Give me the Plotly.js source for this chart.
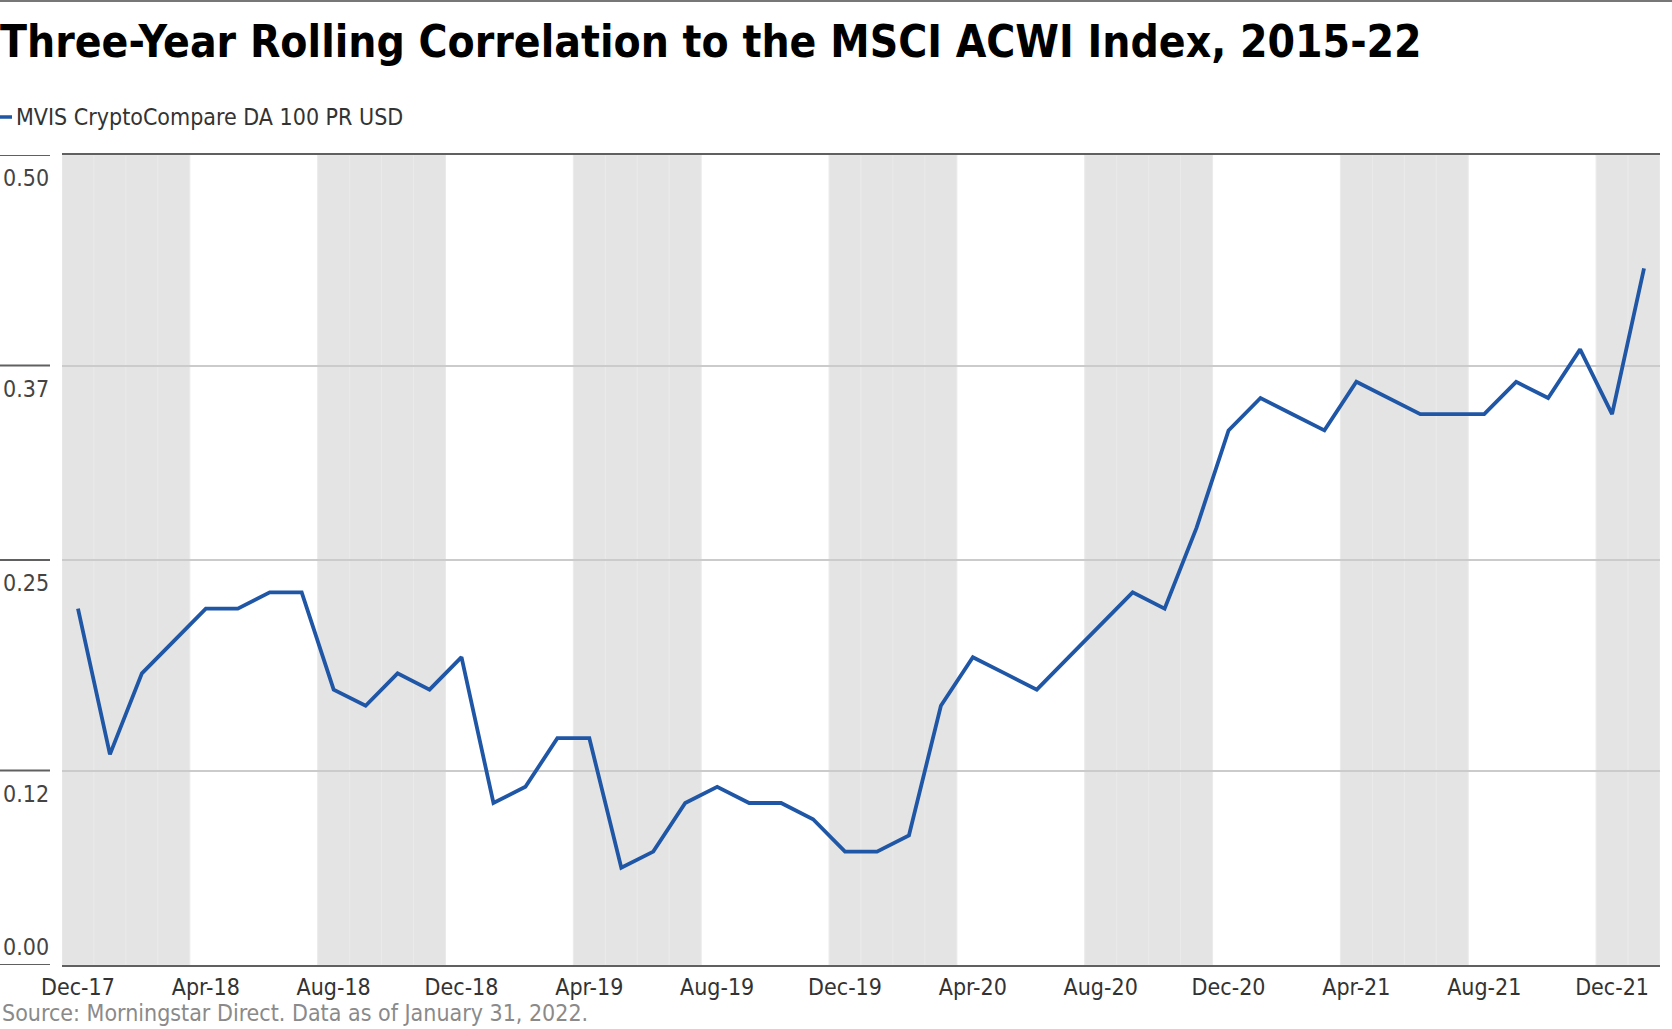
<!DOCTYPE html>
<html>
<head>
<meta charset="utf-8">
<script src="https://cdn.plot.ly/plotly-3.0.1.min.js"></script>
<style>
  html, body { margin: 0; padding: 0; background: #fff; }
  #chart { width: 1672px; height: 1029px; }
</style>
</head>
<body>
<div id="chart"></div>
<script>
// ---- data ----
const months = ["Dec-17","Jan-18","Feb-18","Mar-18","Apr-18","May-18","Jun-18","Jul-18","Aug-18","Sep-18","Oct-18","Nov-18",
  "Dec-18","Jan-19","Feb-19","Mar-19","Apr-19","May-19","Jun-19","Jul-19","Aug-19","Sep-19","Oct-19","Nov-19",
  "Dec-19","Jan-20","Feb-20","Mar-20","Apr-20","May-20","Jun-20","Jul-20","Aug-20","Sep-20","Oct-20","Nov-20",
  "Dec-20","Jan-21","Feb-21","Mar-21","Apr-21","May-21","Jun-21","Jul-21","Aug-21","Sep-21","Oct-21","Nov-21",
  "Dec-21","Jan-22"];
const correlation = [0.22,0.13,0.18,0.20,0.22,0.22,0.23,0.23,0.17,0.16,0.18,0.17,
  0.19,0.10,0.11,0.14,0.14,0.06,0.07,0.10,0.11,0.10,0.10,0.09,
  0.07,0.07,0.08,0.16,0.19,0.18,0.17,0.19,0.21,0.23,0.22,0.27,
  0.33,0.35,0.34,0.33,0.36,0.35,0.34,0.34,0.34,0.36,0.35,0.38,
  0.34,0.43];
const seriesName = "MVIS CryptoCompare DA 100 PR USD";
const xTickLabels = ["Dec-17","Apr-18","Aug-18","Dec-18","Apr-19","Aug-19","Dec-19","Apr-20","Aug-20","Dec-20","Apr-21","Aug-21","Dec-21"];
const yTickValues = [0.00, 0.12, 0.25, 0.37, 0.50];
const shadedBandStarts = ["Dec-17","Aug-18","Apr-19","Dec-19","Aug-20","Apr-21","Dec-21"];
const bandLength = 4;
const titleText = "Three-Year Rolling Correlation to the MSCI ACWI Index, 2015-22";
const sourceText = "Source: Morningstar Direct. Data as of January 31, 2022.";

// ---- layout constants ----
const W = 1672, H = 1029;
const M = {l: 62, r: 12, t: 155, b: 64};
const PW = W - M.l - M.r, PH = H - M.t - M.b;
const px2x = p => (p - M.l) / PW;          // pixel x -> paper x
const py2y = p => (H - M.b - p) / PH;      // pixel y -> paper y
const FONT = "'Liberation Sans Narrow', 'DejaVu Sans Condensed', 'Arial Narrow', sans-serif";
const LINE_COLOR = "#1f56a5";
const AXIS_DARK = "#606060";

const shapes = [];
// shaded month cells
shadedBandStarts.forEach(s => {
  const start = months.indexOf(s);
  for (let k = 0; k < bandLength && start + k < months.length; k++) {
    const i = start + k;
    shapes.push({type: 'rect', xref: 'x', yref: 'y', x0: i - 0.5, x1: i + 0.5, y0: 0, y1: 0.5,
      fillcolor: '#e4e4e4', line: {color: '#eaeaea', width: 1}, layer: 'below'});
  }
});
// left detached tick segments
yTickValues.forEach(v => {
  shapes.push({type: 'line', xref: 'paper', yref: 'y', x0: px2x(0), x1: px2x(50), y0: v, y1: v,
    line: {color: AXIS_DARK, width: 2}});
});
// top rule of figure
shapes.push({type: 'line', xref: 'paper', yref: 'paper', x0: px2x(0), x1: px2x(W), y0: py2y(1), y1: py2y(1),
  line: {color: '#777', width: 2}});
// legend swatch
shapes.push({type: 'line', xref: 'paper', yref: 'paper', x0: px2x(0), x1: px2x(12), y0: py2y(117), y1: py2y(117),
  line: {color: LINE_COLOR, width: 3.5}});

const annotations = [];
yTickValues.forEach(v => {
  annotations.push({xref: 'paper', yref: 'y', x: px2x(51), y: v, xanchor: 'right',
    yanchor: v === 0 ? 'bottom' : 'top', yshift: v === 0 ? 3 : -8,
    text: v.toFixed(2), showarrow: false, font: {family: FONT, size: 23, color: '#444'}});
});
annotations.push({xref: 'paper', yref: 'paper', x: px2x(14), y: py2y(117), xanchor: 'left', yanchor: 'middle',
  text: seriesName, showarrow: false, font: {family: FONT, size: 23, color: '#333'}});
annotations.push({xref: 'paper', yref: 'paper', x: px2x(0), y: py2y(1013), xanchor: 'left', yanchor: 'middle',
  text: sourceText, showarrow: false, font: {family: FONT, size: 23, color: '#8a8a8a'}});

const trace = {
  type: 'scatter', mode: 'lines', name: seriesName,
  x: months, y: correlation,
  line: {color: LINE_COLOR, width: 3.8},
  hoverinfo: 'x+y'
};

const layout = {
  width: W, height: H,
  margin: M,
  paper_bgcolor: '#fff', plot_bgcolor: 'rgba(0,0,0,0)',
  showlegend: false,
  title: {text: titleText, xref: 'container', yref: 'container', x: 0, xanchor: 'left',
    y: 1 - 42 / H, yanchor: 'middle', pad: {l: 0, t: 0, b: 0, r: 0},
    font: {family: FONT, size: 44, color: '#000', weight: 'bold'}},
  xaxis: {
    type: 'category', categoryorder: 'array', categoryarray: months,
    range: [-0.5, months.length - 0.5],
    tickmode: 'array', tickvals: xTickLabels, ticktext: xTickLabels,
    ticks: '', showgrid: false, zeroline: false,
    showline: true, mirror: true, linecolor: AXIS_DARK, linewidth: 2,
    tickfont: {family: FONT, size: 23, color: '#333'},
    fixedrange: true
  },
  yaxis: {
    range: [0, 0.5], tickmode: 'array', tickvals: yTickValues,
    showticklabels: false, ticks: '',
    showgrid: true, gridcolor: '#cbcbcb', gridwidth: 2,
    zeroline: false, showline: false,
    fixedrange: true
  },
  shapes: shapes,
  annotations: annotations
};

Plotly.newPlot('chart', [trace], layout, {displayModeBar: false, staticPlot: true});
</script>
</body>
</html>
